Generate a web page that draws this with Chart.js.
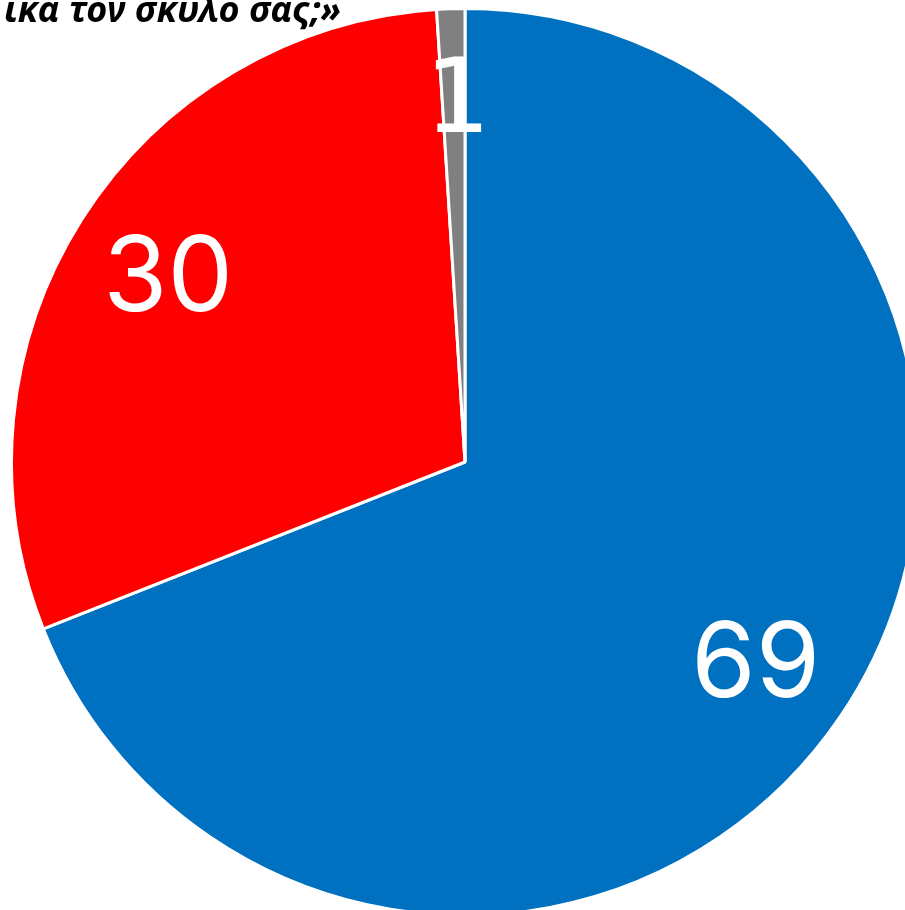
<!DOCTYPE html>
<html>
<head>
<meta charset="utf-8">
<script src="https://cdn.jsdelivr.net/npm/chart.js@4"></script>
<style>
  html, body { margin: 0; padding: 0; width: 905px; height: 910px; overflow: hidden; background: #fff; }
  #wrap { position: absolute; left: 10px; top: 7px; width: 910px; height: 910px; }
  #title {
    position: absolute; right: 564px; top: -9px; line-height: 36px; white-space: nowrap; z-index: 2;
    font-family: "Noto Sans", "Open Sans", sans-serif; font-style: italic; font-weight: bold;
    font-size: 36px; color: #000;
  }
</style>
</head>
<body>
<div id="title">ικά τον σκύλο σας;»</div>
<div id="wrap"><canvas id="pie" width="910" height="910"></canvas></div>
<script>
// --- データ ---
const labels = ['Ναι', 'Όχι', 'ΔΓ/ΔΑ'];
const values = [69, 30, 1];
const colors = ['#0070C0', '#FF0000', '#808080'];

// --- ラベル配置（半径比・フォント・横ずれ）---
const labelRadius = [0.775, 0.775, 0.81];
const labelFonts = ['Inter', 'Inter', '"DejaVu Sans"'];
const labelShiftX = [0, 0, 4];

// --- 値ラベル描画 ---
const FONT_SIZE = 104;
const valueLabels = {
  id: 'valueLabels',
  afterDatasetsDraw(chart) {
    const ctx = chart.ctx;
    const meta = chart.getDatasetMeta(0);
    ctx.save();
    ctx.fillStyle = '#fff';
    ctx.textAlign = 'center';
    ctx.textBaseline = 'alphabetic';
    meta.data.forEach((arc, i) => {
      ctx.font = FONT_SIZE + 'px ' + labelFonts[i] + ', "Liberation Sans", sans-serif';
      const mid = (arc.startAngle + arc.endAngle) / 2;
      const r = arc.outerRadius * labelRadius[i];
      const x = arc.x + Math.cos(mid) * r + labelShiftX[i];
      const y = arc.y + Math.sin(mid) * r;
      ctx.fillText(String(values[i]), x, y + FONT_SIZE * 0.36);
    });
    ctx.restore();
  }
};

new Chart(document.getElementById('pie').getContext('2d'), {
  type: 'pie',
  data: {
    labels: labels,
    datasets: [{
      data: values,
      backgroundColor: colors,
      borderColor: '#fff',
      borderWidth: 3
    }]
  },
  options: {
    responsive: false,
    animation: false,
    layout: { padding: 0 },
    plugins: { legend: { display: false }, tooltip: { enabled: false } }
  },
  plugins: [valueLabels]
});
</script>
</body>
</html>
